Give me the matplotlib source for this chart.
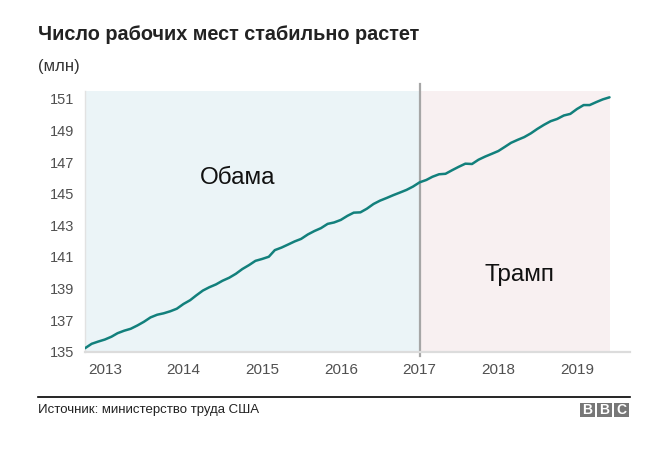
import matplotlib
matplotlib.use("Agg")
import matplotlib.pyplot as plt
import matplotlib.dates as mdates
from matplotlib.patches import Rectangle
from matplotlib.lines import Line2D
from matplotlib import font_manager
import pandas as pd

plt.rcParams['font.family'] = ['Liberation Sans', 'DejaVu Sans']
names = {f.name for f in font_manager.fontManager.ttflist}
NARROW = ['Liberation Sans Narrow', 'Liberation Sans', 'DejaVu Sans'] if 'Liberation Sans Narrow' in names else ['Liberation Sans', 'DejaVu Sans']
HAS_NARROW = 'Liberation Sans Narrow' in names

# ---- data (millions of jobs, monthly Oct 2012 - Jun 2019) ----
start_month = "2012-10-01"
jobs = [135.22, 135.50, 135.64, 135.77, 135.95, 136.17, 136.33, 136.45, 136.66, 136.89, 137.17, 137.34,
        137.43, 137.56, 137.72, 138.02, 138.26, 138.56, 138.87, 139.08, 139.26, 139.49, 139.68, 139.93,
        140.23, 140.48, 140.75, 140.87, 141.01, 141.43, 141.59, 141.78, 141.98, 142.14, 142.42, 142.64,
        142.82, 143.09, 143.18, 143.34, 143.60, 143.80, 143.82, 144.05, 144.35, 144.56, 144.73, 144.91,
        145.07, 145.24, 145.45, 145.72, 145.87, 146.07, 146.23, 146.26, 146.49, 146.70, 146.90, 146.88,
        147.15, 147.35, 147.52, 147.70, 147.97, 148.22, 148.41, 148.58, 148.82, 149.10, 149.36, 149.59,
        149.73, 149.95, 150.05, 150.36, 150.61, 150.61, 150.80, 150.97, 151.10]
dates = pd.date_range(start_month, periods=len(jobs), freq="MS")
split_date = pd.Timestamp("2017-01-01")
year_ticks = [2013, 2014, 2015, 2016, 2017, 2018, 2019]
y_ticks = [135, 137, 139, 141, 143, 145, 147, 149, 151]
period_labels = ["Обама", "Трамп"]

title = "Число рабочих мест стабильно растет"
unit = "(млн)"
source = "Источник: министерство труда США"

# ---- figure ----
W, H = 664, 455
fig = plt.figure(figsize=(W / 100, H / 100), dpi=100)
ax_l, ax_r, ax_t, ax_b = 85, 630, 91, 351.7
ax = fig.add_axes([ax_l / W, 1 - ax_b / H, (ax_r - ax_l) / W, (ax_b - ax_t) / H])

x0 = mdates.date2num(dates[0])
xs = mdates.date2num(split_date)
xe = mdates.date2num(dates[-1])
xright = x0 + (xe - x0) * (ax_r - ax_l) / (609.5 - ax_l)

ax.set_xlim(x0, xright)
ax.set_ylim(135, 151.5)

ax.axvspan(x0, xs, color="#ebf4f7", zorder=0, lw=0)
ax.axvspan(xs, xe, color="#f8f0f1", zorder=0, lw=0)

ax.plot(dates, jobs, color="#12807c", lw=1.8, zorder=3, solid_capstyle="round")

ax.plot([xs, xs], [134.7, 151.95], color="#a6a6a6", lw=1.6, clip_on=False, zorder=2)

for s in ["top", "right"]:
    ax.spines[s].set_visible(False)
ax.spines["bottom"].set_color("#dcdcdc")
ax.spines["bottom"].set_linewidth(1.6)
ax.spines["left"].set_color("#e2e2e2")
ax.spines["left"].set_linewidth(1.0)

ax.set_yticks(y_ticks)
ax.set_yticklabels([str(v) for v in y_ticks], family=NARROW, fontsize=11.5 if HAS_NARROW else 10.5)
ax.set_xticks([mdates.date2num(pd.Timestamp(f"{y}-01-01")) for y in year_ticks])
ax.set_xticklabels([str(y) for y in year_ticks], family=NARROW, fontsize=12.5 if HAS_NARROW else 11)
ax.tick_params(axis="y", length=0, pad=8, labelcolor="#505050")
ax.tick_params(axis="x", length=0, pad=8, labelcolor="#505050")

obama_x = mdates.date2num(pd.Timestamp("2014-09-10"))
trump_x = mdates.date2num(pd.Timestamp("2018-04-10"))
ax.text(obama_x, 146.0, period_labels[0], fontsize=17.5, color="#111111", ha="center", va="center")
ax.text(trump_x, 139.85, period_labels[1], fontsize=17.5, color="#111111", ha="center", va="center")

# ---- titles and footer ----
fig.text(38 / W, 1 - 35 / H, title, fontsize=17.5 if HAS_NARROW else 14.3, fontweight="bold",
         family=NARROW, color="#222222", va="center", ha="left")
fig.text(38 / W, 1 - 67 / H, unit, fontsize=14 if HAS_NARROW else 12, family=NARROW,
         color="#333333", va="center", ha="left")

fig.add_artist(Line2D([38 / W, 630 / W], [1 - 397 / H, 1 - 397 / H], color="#000000", lw=1.2,
                      transform=fig.transFigure))
fig.text(38 / W, 1 - 409.5 / H, source, fontsize=11 if HAS_NARROW else 9.5, family=NARROW,
         color="#222222", va="center", ha="left")

for i, letter in enumerate("BBC"):
    bx = 580 + i * 17
    fig.add_artist(Rectangle((bx / W, 1 - 417 / H), 15 / W, 14 / H, transform=fig.transFigure,
                             facecolor="#777777", edgecolor="none"))
    fig.text((bx + 7.5) / W, 1 - 410 / H, letter, fontsize=10, fontweight="bold", color="white",
             ha="center", va="center")

fig.savefig("out.png", dpi=100)
